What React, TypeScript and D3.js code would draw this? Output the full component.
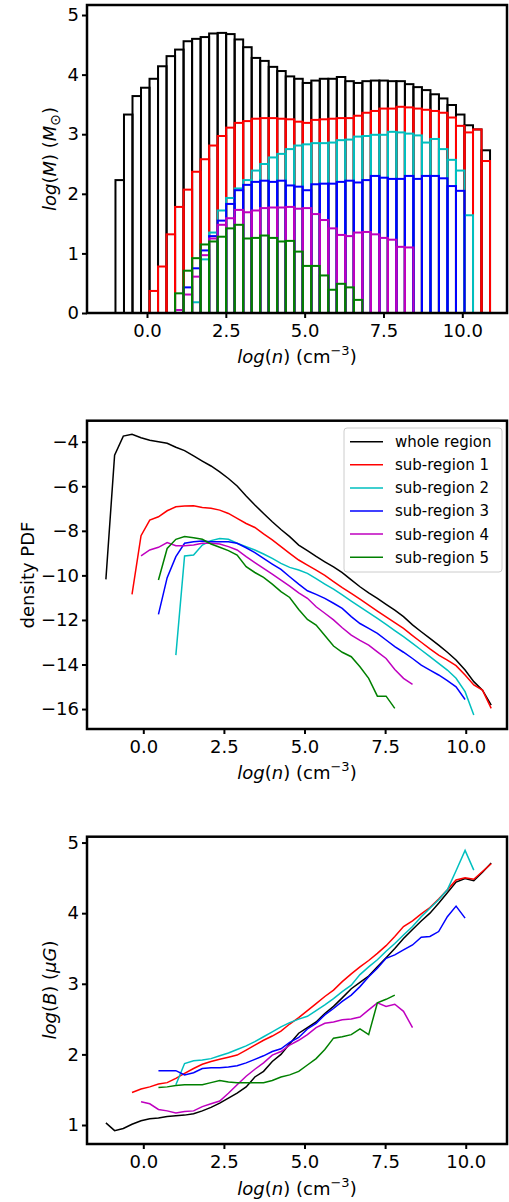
import React, { useEffect, useRef } from 'react';
import * as d3 from 'd3';

const W = 509;
const H = 1202;

// histogram bin edges, log(n)
const histEdges = [
  -1.00, -0.73, -0.46, -0.19, 0.08, 0.35, 0.62, 0.89, 1.16, 1.43, 1.70, 1.97, 2.24, 2.51, 2.78,
  3.05, 3.32, 3.59, 3.86, 4.13, 4.40, 4.67, 4.94, 5.21, 5.48, 5.75, 6.02, 6.29, 6.56, 6.83,
  7.10, 7.37, 7.64, 7.91, 8.18, 8.45, 8.72, 8.99, 9.26, 9.53, 9.80, 10.07, 10.34, 10.61, 10.88,
];

// log(M) per bin, each series starts at the given bin index
const histWhole = [2.23, 3.33, 3.64, 3.78, 3.93, 4.14, 4.31, 4.42, 4.56, 4.60, 4.63, 4.69, 4.70, 4.68, 4.59, 4.46, 4.28, 4.23, 4.13, 4.06, 3.97, 3.93, 3.86, 3.90, 3.93, 3.93, 3.96, 3.89, 3.86, 3.89, 3.90, 3.90, 3.89, 3.89, 3.84, 3.79, 3.74, 3.67, 3.60, 3.49, 3.33, 3.15, 3.08, 2.73];
const histSub1 = [0.37, 0.78, 1.32, 1.78, 2.07, 2.37, 2.58, 2.81, 2.97, 3.11, 3.19, 3.22, 3.26, 3.27, 3.27, 3.26, 3.25, 3.21, 3.19, 3.24, 3.25, 3.26, 3.27, 3.27, 3.31, 3.36, 3.39, 3.43, 3.43, 3.46, 3.45, 3.43, 3.41, 3.39, 3.36, 3.28, 3.14, 3.03, 3.08, 2.55];
const histSub2 = [0.18, 0.90, 1.35, 1.72, 1.93, 2.09, 2.23, 2.39, 2.50, 2.61, 2.67, 2.75, 2.81, 2.83, 2.85, 2.85, 2.86, 2.90, 2.91, 2.96, 2.97, 2.99, 2.99, 3.04, 3.03, 3.01, 2.98, 2.86, 2.92, 2.75, 2.57, 2.39, 1.64];
const histSub3 = [0.43, 0.75, 1.05, 1.29, 1.55, 1.83, 2.06, 2.15, 2.20, 2.22, 2.20, 2.22, 2.14, 2.12, 2.06, 2.16, 2.17, 2.17, 2.20, 2.22, 2.19, 2.23, 2.30, 2.27, 2.25, 2.25, 2.30, 2.25, 2.30, 2.30, 2.26, 2.13, 2.05];
const histSub4 = [0.05, 0.31, 0.61, 0.97, 1.25, 1.48, 1.59, 1.73, 1.69, 1.72, 1.76, 1.77, 1.77, 1.78, 1.75, 1.76, 1.66, 1.56, 1.42, 1.31, 1.29, 1.35, 1.36, 1.32, 1.26, 1.23, 1.11, 1.10];
const histSub5 = [0.33, 0.71, 0.92, 1.15, 1.20, 1.28, 1.42, 1.48, 1.25, 1.26, 1.30, 1.26, 1.20, 1.21, 1.03, 0.79, 0.79, 0.63, 0.39, 0.49, 0.43, 0.22];
const histStart = [0, 4, 9, 8, 7, 7];

// density grid for the PDF and B curves
const nGrid = [
  -1.16, -0.89, -0.62, -0.35, -0.07, 0.20, 0.47, 0.74, 1.01, 1.28, 1.56, 1.83, 2.10, 2.37, 2.64,
  2.91, 3.19, 3.46, 3.73, 4.00, 4.27, 4.54, 4.82, 5.09, 5.36, 5.63, 5.90, 6.17, 6.45, 6.72,
  6.99, 7.26, 7.53, 7.80, 8.07, 8.35, 8.62, 8.89, 9.16, 9.43, 9.70, 9.98, 10.25, 10.52, 10.79,
];
const lineStart = [0, 3, 8, 6, 4, 6];

const pdfWhole = [-10.18, -4.60, -3.75, -3.67, -3.82, -3.93, -4.00, -4.07, -4.25, -4.40, -4.64, -4.87, -5.09, -5.35, -5.65, -5.99, -6.44, -6.84, -7.22, -7.59, -7.94, -8.26, -8.64, -8.89, -9.15, -9.39, -9.62, -9.88, -10.20, -10.51, -10.78, -11.03, -11.30, -11.56, -11.85, -12.22, -12.53, -12.83, -13.13, -13.45, -13.80, -14.25, -14.77, -15.15, -15.82];
const pdfSub1 = [-10.85, -8.22, -7.52, -7.37, -7.10, -6.92, -6.89, -6.87, -6.95, -6.99, -7.07, -7.22, -7.44, -7.67, -7.85, -8.14, -8.41, -8.71, -9.01, -9.31, -9.54, -9.76, -10.00, -10.28, -10.55, -10.81, -11.07, -11.33, -11.60, -11.86, -12.12, -12.38, -12.70, -13.00, -13.30, -13.58, -13.80, -14.05, -14.47, -14.92, -15.15, -15.97];
const pdfSub2 = [-13.58, -9.13, -9.09, -8.64, -8.44, -8.34, -8.38, -8.56, -8.71, -8.86, -9.04, -9.24, -9.46, -9.64, -9.76, -9.91, -10.15, -10.39, -10.62, -10.88, -11.15, -11.41, -11.67, -11.93, -12.20, -12.48, -12.75, -13.05, -13.35, -13.65, -13.95, -14.25, -14.62, -15.22, -16.27];
const pdfSub3 = [-11.75, -10.10, -9.16, -8.56, -8.49, -8.46, -8.49, -8.49, -8.49, -8.56, -8.76, -8.98, -9.24, -9.49, -9.73, -10.06, -10.39, -10.69, -10.85, -11.03, -11.25, -11.48, -11.85, -12.16, -12.38, -12.60, -12.90, -13.20, -13.45, -13.73, -14.03, -14.25, -14.47, -14.72, -15.00, -15.57];
const pdfSub4 = [-9.12, -8.86, -8.74, -8.53, -8.67, -8.67, -8.64, -8.56, -8.56, -8.59, -8.71, -8.86, -9.16, -9.43, -9.69, -9.94, -10.21, -10.48, -10.78, -11.03, -11.41, -11.70, -12.00, -12.35, -12.68, -12.92, -13.13, -13.43, -13.73, -14.22, -14.62, -14.89];
const pdfSub5 = [-10.21, -8.79, -8.38, -8.26, -8.31, -8.38, -8.59, -8.74, -8.89, -9.09, -9.61, -9.87, -10.09, -10.39, -10.73, -10.99, -11.53, -11.98, -12.23, -12.70, -13.17, -13.45, -13.65, -14.10, -14.62, -15.42, -15.42, -15.97];

const bWhole = [1.03, 0.92, 0.95, 1.01, 1.06, 1.09, 1.10, 1.12, 1.13, 1.14, 1.16, 1.20, 1.25, 1.31, 1.38, 1.45, 1.54, 1.68, 1.76, 1.90, 2.00, 2.15, 2.30, 2.38, 2.46, 2.58, 2.68, 2.80, 2.93, 3.02, 3.11, 3.24, 3.37, 3.50, 3.64, 3.77, 3.89, 4.00, 4.14, 4.29, 4.44, 4.49, 4.46, 4.58, 4.71];
const bSub1 = [1.46, 1.51, 1.54, 1.58, 1.60, 1.66, 1.73, 1.80, 1.86, 1.90, 1.93, 1.96, 1.99, 2.06, 2.13, 2.20, 2.26, 2.33, 2.43, 2.52, 2.62, 2.72, 2.82, 2.91, 3.03, 3.14, 3.24, 3.33, 3.43, 3.54, 3.67, 3.81, 3.89, 3.99, 4.08, 4.20, 4.33, 4.47, 4.50, 4.48, 4.59, 4.70];
const bSub2 = [1.57, 1.87, 1.91, 1.92, 1.94, 1.98, 2.02, 2.07, 2.12, 2.18, 2.25, 2.32, 2.39, 2.45, 2.50, 2.54, 2.62, 2.70, 2.79, 2.89, 2.98, 3.13, 3.24, 3.34, 3.46, 3.57, 3.69, 3.81, 3.95, 4.07, 4.19, 4.33, 4.60, 4.89, 4.61];
const bSub3 = [1.77, 1.77, 1.77, 1.71, 1.74, 1.80, 1.81, 1.81, 1.82, 1.84, 1.88, 1.93, 1.98, 2.04, 2.08, 2.17, 2.24, 2.36, 2.44, 2.56, 2.65, 2.75, 2.84, 2.96, 3.10, 3.22, 3.36, 3.41, 3.48, 3.55, 3.66, 3.67, 3.74, 3.95, 4.10, 3.93];
const bSub4 = [1.33, 1.30, 1.22, 1.20, 1.17, 1.19, 1.20, 1.26, 1.30, 1.34, 1.45, 1.57, 1.69, 1.79, 1.88, 1.99, 2.04, 2.13, 2.20, 2.28, 2.38, 2.44, 2.46, 2.49, 2.50, 2.53, 2.63, 2.73, 2.68, 2.71, 2.61, 2.38];
const bSub5 = [1.53, 1.54, 1.56, 1.57, 1.57, 1.57, 1.60, 1.63, 1.61, 1.60, 1.60, 1.60, 1.60, 1.63, 1.68, 1.71, 1.76, 1.85, 1.94, 2.07, 2.23, 2.25, 2.28, 2.36, 2.28, 2.73, 2.78, 2.84];

const seriesNames = ['whole region', 'sub-region 1', 'sub-region 2', 'sub-region 3', 'sub-region 4', 'sub-region 5'];
const seriesColors = ['#000000', '#ff0000', '#00bfbf', '#0000ff', '#bf00bf', '#008000'];

const xTicks = [0, 2.5, 5, 7.5, 10];
const yTicksMass = [0, 1, 2, 3, 4, 5];
const yTicksPdf = [-16, -14, -12, -10, -8, -6, -4];
const yTicksB = [1, 2, 3, 4, 5];

const FONT = 'DejaVu Sans, sans-serif';

const App = () => {
  const svgRef = useRef(null);

  useEffect(() => {
    const svg = d3.select(svgRef.current);
    svg.selectAll('*').remove();

    const left = 87, right = 507;

    const drawAxes = (x, y, yTicks, top, bottom) => {
      const gx = svg.append('g')
        .attr('transform', `translate(0, ${bottom})`)
        .call(d3.axisBottom(x).tickValues(xTicks).tickFormat(d3.format('.1f')).tickSize(5).tickPadding(6));
      const gy = svg.append('g')
        .attr('transform', `translate(${left}, 0)`)
        .call(d3.axisLeft(y).tickValues(yTicks).tickFormat(d3.format('d')).tickSize(5).tickPadding(3));
      [gx, gy].forEach(g => {
        g.select('.domain').remove();
        g.selectAll('line').attr('stroke', '#000').attr('stroke-width', 2);
        g.selectAll('text').attr('fill', '#000').style('font-family', FONT).style('font-size', '18px');
      });
      svg.append('rect')
        .attr('x', left).attr('y', top)
        .attr('width', right - left).attr('height', bottom - top)
        .attr('fill', 'none').attr('stroke', '#000').attr('stroke-width', 2.5);
    };

    const xLabel = (cy) => {
      const t = svg.append('text')
        .attr('x', (left + right) / 2).attr('y', cy)
        .attr('text-anchor', 'middle')
        .style('font-family', FONT).style('font-size', '18px');
      t.append('tspan').style('font-style', 'italic').text('log');
      t.append('tspan').text('(');
      t.append('tspan').style('font-style', 'italic').text('n');
      t.append('tspan').text(') (cm');
      t.append('tspan').attr('dy', -8).style('font-size', '13px').text('\u22123');
      t.append('tspan').attr('dy', 8).text(')');
    };

    const yLabel = (bx, cy) => svg.append('text')
      .attr('transform', `translate(${bx}, ${cy}) rotate(-90)`)
      .attr('text-anchor', 'middle')
      .style('font-family', FONT).style('font-size', '18px');

    // ---------- panel 1: mass histogram
    const x1 = d3.scaleLinear().domain([-1.903, 11.418]).range([left, right]);
    const y1 = d3.scaleLinear().domain([0, 5.168]).range([313, 5]);
    const hists = [histWhole, histSub1, histSub2, histSub3, histSub4, histSub5];
    hists.forEach((vals, s) => {
      svg.append('g').selectAll('rect')
        .data(vals)
        .enter().append('rect')
        .attr('x', (d, i) => x1(histEdges[histStart[s] + i]))
        .attr('width', (d, i) => x1(histEdges[histStart[s] + i + 1]) - x1(histEdges[histStart[s] + i]))
        .attr('y', d => y1(d))
        .attr('height', d => y1(0) - y1(d))
        .attr('fill', 'none')
        .attr('stroke', seriesColors[s])
        .attr('stroke-width', 2);
    });
    drawAxes(x1, y1, yTicksMass, 5, 313);
    xLabel(363);
    const l1 = yLabel(56, 159);
    l1.append('tspan').style('font-style', 'italic').text('log');
    l1.append('tspan').text('(');
    l1.append('tspan').style('font-style', 'italic').text('M');
    l1.append('tspan').text(') (');
    l1.append('tspan').style('font-style', 'italic').text('M');
    l1.append('tspan').attr('dy', 4).style('font-size', '14px').text('\u2299');
    l1.append('tspan').attr('dy', -4).text(')');

    // ---------- panel 2: density PDF
    const x2 = d3.scaleLinear().domain([-1.746, 11.28]).range([left, right]);
    const y2 = d3.scaleLinear().domain([-16.895, -3.057]).range([729, 420.7]);
    const pdfs = [pdfWhole, pdfSub1, pdfSub2, pdfSub3, pdfSub4, pdfSub5];
    pdfs.forEach((vals, s) => {
      const line = d3.line()
        .x((d, i) => x2(nGrid[lineStart[s] + i]))
        .y(d => y2(d));
      svg.append('path').datum(vals)
        .attr('d', line)
        .attr('fill', 'none')
        .attr('stroke', seriesColors[s])
        .attr('stroke-width', 1.5);
    });
    drawAxes(x2, y2, yTicksPdf, 420.7, 729);
    xLabel(779);
    yLabel(34, 575).text('density PDF');

    // legend
    const lg = svg.append('g');
    lg.append('rect')
      .attr('x', 344).attr('y', 428).attr('width', 158).attr('height', 144).attr('rx', 3)
      .attr('fill', '#fff').attr('fill-opacity', 0.8).attr('stroke', '#cccccc').attr('stroke-width', 1);
    seriesNames.forEach((name, i) => {
      const cy = 441.7 + i * 23.1;
      lg.append('line').attr('x1', 350).attr('x2', 383).attr('y1', cy).attr('y2', cy)
        .attr('stroke', seriesColors[i]).attr('stroke-width', 1.5);
      lg.append('text').attr('x', 395).attr('y', cy).attr('dy', '0.36em')
        .style('font-family', FONT).style('font-size', '15px').text(name);
    });

    // ---------- panel 3: magnetic field
    const x3 = d3.scaleLinear().domain([-1.746, 11.28]).range([left, right]);
    const y3 = d3.scaleLinear().domain([0.731, 5.083]).range([1144, 836.7]);
    const bs = [bWhole, bSub1, bSub2, bSub3, bSub4, bSub5];
    bs.forEach((vals, s) => {
      const line = d3.line()
        .x((d, i) => x3(nGrid[lineStart[s] + i]))
        .y(d => y3(d));
      svg.append('path').datum(vals)
        .attr('d', line)
        .attr('fill', 'none')
        .attr('stroke', seriesColors[s])
        .attr('stroke-width', 1.5);
    });
    drawAxes(x3, y3, yTicksB, 836.7, 1144);
    xLabel(1195);
    const l3 = yLabel(56, 990);
    l3.append('tspan').style('font-style', 'italic').text('log');
    l3.append('tspan').text('(');
    l3.append('tspan').style('font-style', 'italic').text('B');
    l3.append('tspan').text(') (');
    l3.append('tspan').style('font-style', 'italic').text('\u03bcG');
    l3.append('tspan').text(')');
  }, []);

  return (
    <svg ref={svgRef} width={W} height={H}
      style={{ position: 'absolute', left: 0, top: 0, background: '#fff' }}></svg>
  );
};

export default App;
